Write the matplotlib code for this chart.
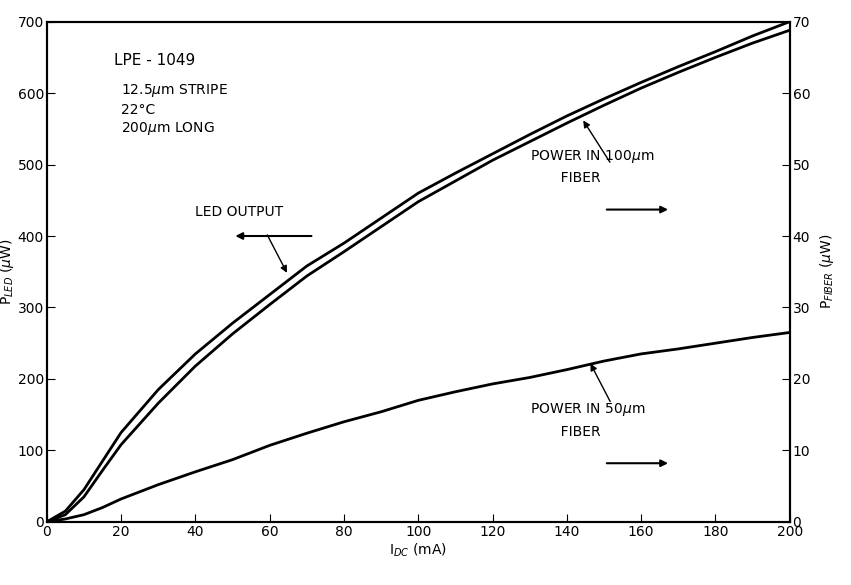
import matplotlib.pyplot as plt

# data
i_dc = [0, 5, 10, 15, 20, 30, 40, 50, 60, 70, 80, 90, 100, 110, 120, 130, 140, 150, 160, 170, 180, 190, 200]
p_led = [0, 15, 45, 85, 125, 185, 235, 278, 318, 358, 390, 425, 460, 488, 515, 542, 568, 592, 615, 637, 658, 680, 700]
p_fib100 = [0, 1.0, 3.5, 7.2, 10.8, 16.6, 21.8, 26.3, 30.4, 34.4, 37.8, 41.3, 44.8, 47.7, 50.6, 53.2, 55.8, 58.3, 60.7, 62.9, 65, 67, 68.8]
p_fib50 = [0, 0.4, 1, 2, 3.2, 5.2, 7, 8.7, 10.7, 12.4, 14, 15.4, 17, 18.2, 19.3, 20.2, 21.3, 22.5, 23.5, 24.2, 25, 25.8, 26.5]

fig = plt.figure(figsize=(8.51, 5.85), dpi=100)
ax = fig.add_axes([0.055, 0.108, 0.873, 0.855])
ax2 = ax.twinx()

ax.plot(i_dc, p_led, color="black", lw=2)
ax2.plot(i_dc, p_fib100, color="black", lw=2)
ax2.plot(i_dc, p_fib50, color="black", lw=2)

ax.set_xlim(0, 200)
ax.set_ylim(0, 700)
ax2.set_ylim(0, 70)
ax.set_xticks(range(0, 201, 20))
ax.set_yticks(range(0, 701, 100))
ax2.set_yticks(range(0, 71, 10))
ax.tick_params(direction="in", labelsize=10, length=6, pad=2)
ax2.tick_params(direction="in", labelsize=10, length=6, pad=2)
for a in (ax, ax2):
    for s in a.spines.values():
        s.set_linewidth(1.5)

ax.set_xlabel("I$_{DC}$ (mA)", fontsize=10, labelpad=2)
ax.set_ylabel("P$_{LED}$ ($\\mu$W)", fontsize=10, labelpad=1)
ax2.set_ylabel("P$_{FIBER}$ ($\\mu$W)", fontsize=10, labelpad=6)

ax.text(18, 640, "LPE - 1049", fontsize=11)
ax.text(20, 545, "12.5$\\mu$m STRIPE\n22°C\n200$\\mu$m LONG", fontsize=10, linespacing=1.3)

ax.text(40, 428, "LED OUTPUT", fontsize=10)
ax.annotate("", xy=(50, 400), xytext=(72, 400), arrowprops=dict(arrowstyle="-|>", color="black", lw=1.5))
ax.annotate("", xy=(65, 345), xytext=(59, 405), arrowprops=dict(arrowstyle="-|>", color="black", lw=1))

ax.text(130, 475, "POWER IN 100$\\mu$m\n       FIBER", fontsize=10, linespacing=1.6)
ax.annotate("", xy=(168, 437), xytext=(150, 437), arrowprops=dict(arrowstyle="-|>", color="black", lw=1.5))
ax.annotate("", xy=(144, 565), xytext=(152, 500), arrowprops=dict(arrowstyle="-|>", color="black", lw=1))

ax.text(130, 120, "POWER IN 50$\\mu$m\n       FIBER", fontsize=10, linespacing=1.6)
ax.annotate("", xy=(168, 82), xytext=(150, 82), arrowprops=dict(arrowstyle="-|>", color="black", lw=1.5))
ax.annotate("", xy=(146, 225), xytext=(152, 165), arrowprops=dict(arrowstyle="-|>", color="black", lw=1))

fig.savefig("out.png", dpi=100)
